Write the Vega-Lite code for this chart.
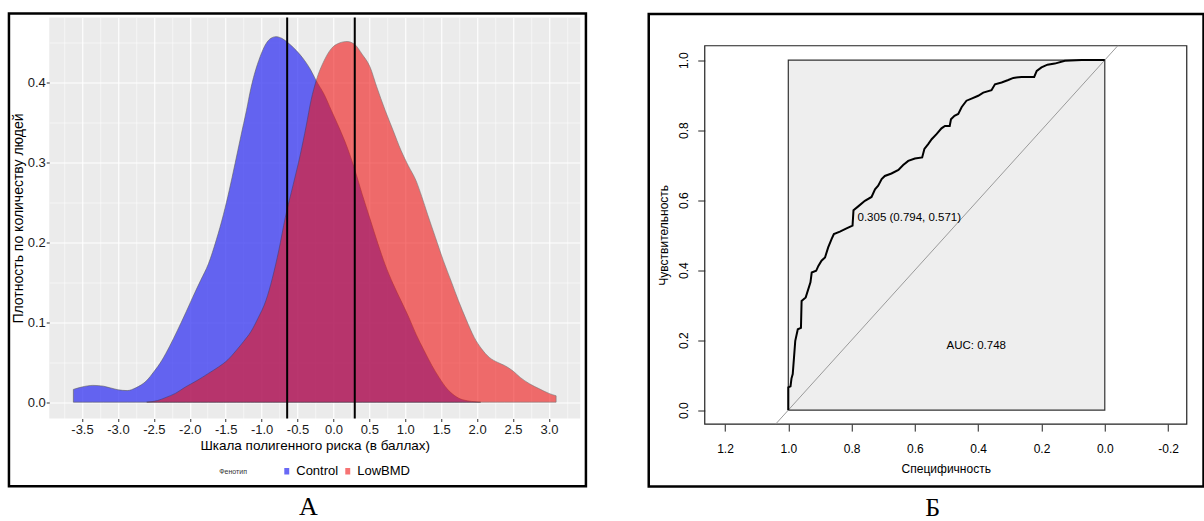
{
  "$schema": "https://vega.github.io/schema/vega-lite/v6.json",
  "padding": {"left": 7.25, "top": 11.5, "right": 0, "bottom": 0},
  "autosize": {"type": "pad"},
  "config": {
    "font": "Liberation Sans",
    "view": {"stroke": null},
    "axis": {"labelFont": "Liberation Sans", "titleFont": "Liberation Sans"},
    "legend": {"labelFont": "Liberation Sans", "titleFont": "Liberation Sans"}
  },
  "datasets": {
    "density": [
      {"phenotype": "Control", "score": -3.62, "density": 0.016},
      {"phenotype": "Control", "score": -3.5, "density": 0.019},
      {"phenotype": "Control", "score": -3.35, "density": 0.021},
      {"phenotype": "Control", "score": -3.2, "density": 0.02},
      {"phenotype": "Control", "score": -3.0, "density": 0.0155},
      {"phenotype": "Control", "score": -2.87, "density": 0.0145},
      {"phenotype": "Control", "score": -2.75, "density": 0.018},
      {"phenotype": "Control", "score": -2.6, "density": 0.027},
      {"phenotype": "Control", "score": -2.5, "density": 0.038},
      {"phenotype": "Control", "score": -2.39, "density": 0.052},
      {"phenotype": "Control", "score": -2.28, "density": 0.07},
      {"phenotype": "Control", "score": -2.17, "density": 0.09},
      {"phenotype": "Control", "score": -2.05, "density": 0.113},
      {"phenotype": "Control", "score": -1.96, "density": 0.131},
      {"phenotype": "Control", "score": -1.85, "density": 0.152},
      {"phenotype": "Control", "score": -1.74, "density": 0.173},
      {"phenotype": "Control", "score": -1.63, "density": 0.203},
      {"phenotype": "Control", "score": -1.53, "density": 0.235},
      {"phenotype": "Control", "score": -1.45, "density": 0.265},
      {"phenotype": "Control", "score": -1.37, "density": 0.298},
      {"phenotype": "Control", "score": -1.29, "density": 0.332},
      {"phenotype": "Control", "score": -1.21, "density": 0.365},
      {"phenotype": "Control", "score": -1.15, "density": 0.392},
      {"phenotype": "Control", "score": -1.1, "density": 0.41},
      {"phenotype": "Control", "score": -1.02, "density": 0.432},
      {"phenotype": "Control", "score": -0.94, "density": 0.448},
      {"phenotype": "Control", "score": -0.87, "density": 0.455},
      {"phenotype": "Control", "score": -0.8, "density": 0.457},
      {"phenotype": "Control", "score": -0.72, "density": 0.455},
      {"phenotype": "Control", "score": -0.64, "density": 0.45},
      {"phenotype": "Control", "score": -0.52, "density": 0.44},
      {"phenotype": "Control", "score": -0.4, "density": 0.427},
      {"phenotype": "Control", "score": -0.32, "density": 0.416},
      {"phenotype": "Control", "score": -0.24, "density": 0.402},
      {"phenotype": "Control", "score": -0.13, "density": 0.385},
      {"phenotype": "Control", "score": -0.03, "density": 0.365},
      {"phenotype": "Control", "score": 0.08, "density": 0.343},
      {"phenotype": "Control", "score": 0.19, "density": 0.319},
      {"phenotype": "Control", "score": 0.3, "density": 0.29},
      {"phenotype": "Control", "score": 0.4, "density": 0.26},
      {"phenotype": "Control", "score": 0.51, "density": 0.229},
      {"phenotype": "Control", "score": 0.62, "density": 0.198},
      {"phenotype": "Control", "score": 0.72, "density": 0.172},
      {"phenotype": "Control", "score": 0.83, "density": 0.148},
      {"phenotype": "Control", "score": 0.94, "density": 0.127},
      {"phenotype": "Control", "score": 1.05, "density": 0.106},
      {"phenotype": "Control", "score": 1.15, "density": 0.085},
      {"phenotype": "Control", "score": 1.26, "density": 0.065},
      {"phenotype": "Control", "score": 1.37, "density": 0.046},
      {"phenotype": "Control", "score": 1.47, "density": 0.031},
      {"phenotype": "Control", "score": 1.58, "density": 0.017},
      {"phenotype": "Control", "score": 1.69, "density": 0.008},
      {"phenotype": "Control", "score": 1.8, "density": 0.003},
      {"phenotype": "Control", "score": 2.05, "density": 0.0},
      {"phenotype": "LowBMD", "score": -2.6, "density": 0.0},
      {"phenotype": "LowBMD", "score": -2.45, "density": 0.002},
      {"phenotype": "LowBMD", "score": -2.33, "density": 0.006},
      {"phenotype": "LowBMD", "score": -2.2, "density": 0.011},
      {"phenotype": "LowBMD", "score": -2.06, "density": 0.019},
      {"phenotype": "LowBMD", "score": -1.9, "density": 0.027},
      {"phenotype": "LowBMD", "score": -1.74, "density": 0.036},
      {"phenotype": "LowBMD", "score": -1.6, "density": 0.044},
      {"phenotype": "LowBMD", "score": -1.47, "density": 0.053},
      {"phenotype": "LowBMD", "score": -1.35, "density": 0.065},
      {"phenotype": "LowBMD", "score": -1.25, "density": 0.076},
      {"phenotype": "LowBMD", "score": -1.15, "density": 0.088},
      {"phenotype": "LowBMD", "score": -1.05, "density": 0.105},
      {"phenotype": "LowBMD", "score": -0.94, "density": 0.127},
      {"phenotype": "LowBMD", "score": -0.85, "density": 0.155},
      {"phenotype": "LowBMD", "score": -0.76, "density": 0.19},
      {"phenotype": "LowBMD", "score": -0.67, "density": 0.231},
      {"phenotype": "LowBMD", "score": -0.56, "density": 0.272},
      {"phenotype": "LowBMD", "score": -0.46, "density": 0.31},
      {"phenotype": "LowBMD", "score": -0.38, "density": 0.345},
      {"phenotype": "LowBMD", "score": -0.31, "density": 0.378},
      {"phenotype": "LowBMD", "score": -0.24, "density": 0.402},
      {"phenotype": "LowBMD", "score": -0.13, "density": 0.427},
      {"phenotype": "LowBMD", "score": -0.03, "density": 0.442},
      {"phenotype": "LowBMD", "score": 0.08, "density": 0.449},
      {"phenotype": "LowBMD", "score": 0.19, "density": 0.451},
      {"phenotype": "LowBMD", "score": 0.3, "density": 0.447},
      {"phenotype": "LowBMD", "score": 0.4, "density": 0.435},
      {"phenotype": "LowBMD", "score": 0.51, "density": 0.419},
      {"phenotype": "LowBMD", "score": 0.6, "density": 0.395},
      {"phenotype": "LowBMD", "score": 0.72, "density": 0.365},
      {"phenotype": "LowBMD", "score": 0.83, "density": 0.34},
      {"phenotype": "LowBMD", "score": 0.94, "density": 0.315},
      {"phenotype": "LowBMD", "score": 1.04, "density": 0.296},
      {"phenotype": "LowBMD", "score": 1.15, "density": 0.277},
      {"phenotype": "LowBMD", "score": 1.23, "density": 0.257},
      {"phenotype": "LowBMD", "score": 1.31, "density": 0.235},
      {"phenotype": "LowBMD", "score": 1.42, "density": 0.206},
      {"phenotype": "LowBMD", "score": 1.53, "density": 0.177},
      {"phenotype": "LowBMD", "score": 1.64, "density": 0.151},
      {"phenotype": "LowBMD", "score": 1.74, "density": 0.127},
      {"phenotype": "LowBMD", "score": 1.85, "density": 0.103},
      {"phenotype": "LowBMD", "score": 1.96, "density": 0.081},
      {"phenotype": "LowBMD", "score": 2.06, "density": 0.067},
      {"phenotype": "LowBMD", "score": 2.17, "density": 0.056},
      {"phenotype": "LowBMD", "score": 2.28, "density": 0.05},
      {"phenotype": "LowBMD", "score": 2.38, "density": 0.046},
      {"phenotype": "LowBMD", "score": 2.5, "density": 0.039},
      {"phenotype": "LowBMD", "score": 2.6, "density": 0.031},
      {"phenotype": "LowBMD", "score": 2.73, "density": 0.023},
      {"phenotype": "LowBMD", "score": 2.86, "density": 0.017},
      {"phenotype": "LowBMD", "score": 3.0, "density": 0.011},
      {"phenotype": "LowBMD", "score": 3.1, "density": 0.008}
    ],
    "roc": [
      {"specificity": 1.0, "sensitivity": 0.0},
      {"specificity": 1.0, "sensitivity": 0.065},
      {"specificity": 0.993, "sensitivity": 0.068},
      {"specificity": 0.99, "sensitivity": 0.09},
      {"specificity": 0.986, "sensitivity": 0.103},
      {"specificity": 0.982, "sensitivity": 0.15},
      {"specificity": 0.978, "sensitivity": 0.198},
      {"specificity": 0.97, "sensitivity": 0.231},
      {"specificity": 0.96, "sensitivity": 0.235},
      {"specificity": 0.958, "sensitivity": 0.312},
      {"specificity": 0.945, "sensitivity": 0.322},
      {"specificity": 0.93, "sensitivity": 0.365},
      {"specificity": 0.926, "sensitivity": 0.393},
      {"specificity": 0.912, "sensitivity": 0.398},
      {"specificity": 0.905, "sensitivity": 0.412},
      {"specificity": 0.895, "sensitivity": 0.427},
      {"specificity": 0.884, "sensitivity": 0.436},
      {"specificity": 0.874, "sensitivity": 0.465},
      {"specificity": 0.863, "sensitivity": 0.489},
      {"specificity": 0.856, "sensitivity": 0.503},
      {"specificity": 0.837, "sensitivity": 0.51},
      {"specificity": 0.816, "sensitivity": 0.519},
      {"specificity": 0.797, "sensitivity": 0.527},
      {"specificity": 0.794, "sensitivity": 0.571},
      {"specificity": 0.779, "sensitivity": 0.582},
      {"specificity": 0.758, "sensitivity": 0.598},
      {"specificity": 0.737, "sensitivity": 0.609},
      {"specificity": 0.726, "sensitivity": 0.631},
      {"specificity": 0.716, "sensitivity": 0.641},
      {"specificity": 0.705, "sensitivity": 0.66},
      {"specificity": 0.695, "sensitivity": 0.669},
      {"specificity": 0.674, "sensitivity": 0.676},
      {"specificity": 0.652, "sensitivity": 0.686},
      {"specificity": 0.637, "sensitivity": 0.7},
      {"specificity": 0.621, "sensitivity": 0.712},
      {"specificity": 0.6, "sensitivity": 0.719},
      {"specificity": 0.577, "sensitivity": 0.722},
      {"specificity": 0.57, "sensitivity": 0.746},
      {"specificity": 0.558, "sensitivity": 0.76},
      {"specificity": 0.547, "sensitivity": 0.774},
      {"specificity": 0.531, "sensitivity": 0.789},
      {"specificity": 0.516, "sensitivity": 0.805},
      {"specificity": 0.505, "sensitivity": 0.812},
      {"specificity": 0.49, "sensitivity": 0.812},
      {"specificity": 0.486, "sensitivity": 0.831},
      {"specificity": 0.475, "sensitivity": 0.841},
      {"specificity": 0.463, "sensitivity": 0.846},
      {"specificity": 0.452, "sensitivity": 0.866},
      {"specificity": 0.437, "sensitivity": 0.884},
      {"specificity": 0.421, "sensitivity": 0.89},
      {"specificity": 0.4, "sensitivity": 0.898},
      {"specificity": 0.384, "sensitivity": 0.907},
      {"specificity": 0.358, "sensitivity": 0.914},
      {"specificity": 0.347, "sensitivity": 0.931},
      {"specificity": 0.326, "sensitivity": 0.936},
      {"specificity": 0.305, "sensitivity": 0.943},
      {"specificity": 0.289, "sensitivity": 0.949},
      {"specificity": 0.263, "sensitivity": 0.952},
      {"specificity": 0.223, "sensitivity": 0.952},
      {"specificity": 0.215, "sensitivity": 0.969},
      {"specificity": 0.2, "sensitivity": 0.979},
      {"specificity": 0.181, "sensitivity": 0.987},
      {"specificity": 0.158, "sensitivity": 0.99},
      {"specificity": 0.126, "sensitivity": 0.998},
      {"specificity": 0.073, "sensitivity": 1.0},
      {"specificity": 0.0, "sensitivity": 1.0}
    ]
  },
  "align": "none",
  "spacing": 59.5,
  "hconcat": [
    {
      "width": 531,
      "height": 401,
      "view": {"fill": "#EBEBEB", "stroke": null},
      "resolve": {"axis": {"x": "independent", "y": "independent"}},
      "layer": [
        {
          "data": {"name": "density"},
          "mark": {"type": "area", "interpolate": "monotone", "stroke": "#2a2a2a", "strokeWidth": 0.6},
          "encoding": {
            "x": {
              "field": "score", "type": "quantitative",
              "scale": {"domain": [-3.956, 3.436], "nice": false, "zero": false},
              "axis": {
                "orient": "bottom",
                "values": [-3.75, -3.25, -2.75, -2.25, -1.75, -1.25, -0.75, -0.25, 0.25, 0.75, 1.25, 1.75, 2.25, 2.75, 3.25],
                "labels": false, "ticks": false, "domain": false, "title": null,
                "grid": true, "gridColor": "#FFFFFF", "gridWidth": 0.55
              }
            },
            "y": {
              "field": "density", "type": "quantitative", "stack": null,
              "scale": {"domain": [-0.0204, 0.481], "nice": false, "zero": false},
              "axis": {
                "orient": "left",
                "values": [0.05, 0.15, 0.25, 0.35, 0.45],
                "labels": false, "ticks": false, "domain": false, "title": null,
                "grid": true, "gridColor": "#FFFFFF", "gridWidth": 0.55
              }
            },
            "color": {
              "field": "phenotype", "type": "nominal",
              "scale": {"domain": ["Control", "LowBMD"], "range": ["#3434F2", "#F01616"]},
              "legend": {
                "orient": "none",
                "legendX": 170,
                "legendY": 447,
                "direction": "horizontal",
                "title": "Фенотип",
                "titleFontSize": 7,
                "titleFontWeight": "normal",
                "titleColor": "#333333",
                "titleOrient": "left",
                "titleBaseline": "middle",
                "titlePadding": 33,
                "symbolType": "M-0.38,-0.5H0.38V0.5H-0.38Z",
                "symbolSize": 169,
                "symbolStrokeWidth": 0,
                "symbolOpacity": 1,
                "labelFontSize": 13,
                "labelColor": "#000000",
                "labelOffset": 3,
                "columnPadding": 3
              }
            },
            "opacity": {
              "field": "phenotype", "type": "nominal",
              "scale": {"domain": ["Control", "LowBMD"], "range": [0.74, 0.6]},
              "legend": null
            }
          }
        },
        {
          "data": {"values": [{"cut": -0.644}, {"cut": 0.297}]},
          "mark": {"type": "rule", "color": "#000000", "strokeWidth": 2},
          "encoding": {
            "x": {
              "field": "cut", "type": "quantitative",
              "axis": {
                "orient": "bottom",
                "values": [-3.5, -3.0, -2.5, -2.0, -1.5, -1.0, -0.5, 0.0, 0.5, 1.0, 1.5, 2.0, 2.5, 3.0],
                "labelExpr": "(datum.value < -0.0001 ? '-' : '') + format(abs(datum.value), '.1f')",
                "labelOverlap": false,
                "labelFlush": false,
                "grid": true, "gridColor": "#FFFFFF", "gridWidth": 1.1,
                "tickColor": "#333333", "tickSize": 3,
                "domain": false,
                "labelFontSize": 13, "labelColor": "#1a1a1a", "labelPadding": 2,
                "title": "Шкала полигенного риска (в баллах)",
                "titleFontSize": 13.5, "titleFontWeight": "normal",
                "titleColor": "#000000", "titlePadding": 2
              }
            }
          }
        },
        {
          "data": {"values": [{"panel": "A"}]},
          "mark": {"type": "rect", "filled": false, "color": "#000000", "strokeWidth": 2.5, "clip": false},
          "encoding": {
            "x": {"datum": -4.517, "axis": null}, "x2": {"datum": 3.515},
            "y": {
              "datum": 0.486,
              "axis": {
                "orient": "left",
                "values": [0, 0.1, 0.2, 0.3, 0.4],
                "format": ".1f",
                "labelOverlap": false,
                "labelFlush": false,
                "grid": true, "gridColor": "#FFFFFF", "gridWidth": 1.1,
                "tickColor": "#333333", "tickSize": 3,
                "domain": false,
                "labelFontSize": 13, "labelColor": "#1a1a1a", "labelPadding": 1,
                "title": "Плотность по количеству людей",
                "titleFontSize": 14, "titleFontWeight": "normal",
                "titleColor": "#000000", "titlePadding": 2
              }
            },
            "y2": {"datum": -0.105}
          }
        },
        {
          "data": {"values": [{"label": "А"}]},
          "mark": {"type": "text", "font": "Liberation Serif", "fontSize": 26, "baseline": "middle", "align": "center", "clip": false, "color": "#000000"},
          "encoding": {
            "x": {"datum": -0.348, "axis": null}, "y": {"datum": -0.131, "axis": null},
            "text": {"field": "label"}
          }
        }
      ]
    },
    {
      "width": 482,
      "height": 406.6,
      "view": {"stroke": null},
      "layer": [
        {
          "data": {"values": [{"polygon": "max AUC"}]},
          "mark": {"type": "rect", "fill": "#EEEEEE", "stroke": "#333333", "strokeWidth": 1.2},
          "encoding": {
            "x": {"datum": 1, "type": "quantitative",
              "scale": {"domain": [-0.259, 1.264], "reverse": true, "nice": false, "zero": false},
              "axis": {
                "values": [-0.2, 0, 0.2, 0.4, 0.6, 0.8, 1.0, 1.2],
                "labelExpr": "(datum.value < -0.0001 ? '-' : '') + format(abs(datum.value), '.1f')",
                "labelOverlap": false,
                "domain": false, "grid": false,
                "tickSize": 7, "tickColor": "#222222", "tickWidth": 1,
                "labelFontSize": 12, "labelColor": "#000000", "labelPadding": 12,
                "title": "Специфичность", "titleFontSize": 12, "titleFontWeight": "normal",
                "titleColor": "#000000", "titlePadding": 9
              }
            },
            "x2": {"datum": 0},
            "y": {"datum": 0, "type": "quantitative",
              "scale": {"domain": [-0.04, 1.1217], "nice": false, "zero": false},
              "axis": {
                "values": [0, 0.2, 0.4, 0.6, 0.8, 1.0],
                "format": ".1f",
                "labelOverlap": false,
                "domain": false, "grid": false,
                "tickSize": 7, "tickColor": "#222222", "tickWidth": 1,
                "labelAngle": -90, "labelAlign": "center", "labelBaseline": "bottom",
                "labelFontSize": 12, "labelColor": "#000000", "labelPadding": 7,
                "title": "Чувствительность", "titleFontSize": 12, "titleFontWeight": "normal",
                "titleColor": "#000000", "titlePadding": 7, "titleY": 217.3
              }
            },
            "y2": {"datum": 1}
          }
        },
        {
          "data": {"values": [{"frame": "plot box"}]},
          "mark": {"type": "rect", "filled": false, "color": "#222222", "strokeWidth": 1.2},
          "encoding": {
            "x": {"datum": 1.264}, "x2": {"datum": -0.259},
            "y": {"datum": -0.04}, "y2": {"datum": 1.041}
          }
        },
        {
          "data": {"values": [{"line": "identity"}]},
          "mark": {"type": "rule", "color": "#9A9A9A", "strokeWidth": 1},
          "encoding": {
            "x": {"datum": 1.04}, "y": {"datum": -0.04},
            "x2": {"datum": -0.041}, "y2": {"datum": 1.041}
          }
        },
        {
          "data": {"name": "roc"},
          "mark": {"type": "line", "color": "#000000", "strokeWidth": 2, "interpolate": "linear"},
          "encoding": {
            "x": {"field": "specificity", "type": "quantitative"},
            "y": {"field": "sensitivity", "type": "quantitative"},
            "order": {"value": null}
          }
        },
        {
          "data": {"values": [{"specificity": 0.794, "sensitivity": 0.571, "label": "0.305 (0.794, 0.571)"}]},
          "mark": {"type": "text", "align": "left", "baseline": "top", "dx": 4, "dy": 2, "fontSize": 11.5, "color": "#000000"},
          "encoding": {
            "x": {"field": "specificity", "type": "quantitative"},
            "y": {"field": "sensitivity", "type": "quantitative"},
            "text": {"field": "label"}
          }
        },
        {
          "data": {"values": [{"specificity": 0.5, "sensitivity": 0.2, "label": "AUC: 0.748"}]},
          "mark": {"type": "text", "align": "left", "baseline": "top", "fontSize": 11.5, "color": "#000000"},
          "encoding": {
            "x": {"field": "specificity", "type": "quantitative"},
            "y": {"field": "sensitivity", "type": "quantitative"},
            "text": {"field": "label"}
          }
        },
        {
          "data": {"values": [{"panel": "B"}]},
          "mark": {"type": "rect", "filled": false, "color": "#000000", "strokeWidth": 2.5, "clip": false},
          "encoding": {
            "x": {"datum": 1.441}, "x2": {"datum": -0.312},
            "y": {"datum": 1.132}, "y2": {"datum": -0.218}
          }
        },
        {
          "data": {"values": [{"label": "Б"}]},
          "mark": {"type": "text", "font": "Liberation Serif", "fontSize": 26, "baseline": "middle", "align": "center", "clip": false, "color": "#000000"},
          "encoding": {
            "x": {"datum": 0.544}, "y": {"datum": -0.279},
            "text": {"field": "label"}
          }
        }
      ]
    }
  ]
}
